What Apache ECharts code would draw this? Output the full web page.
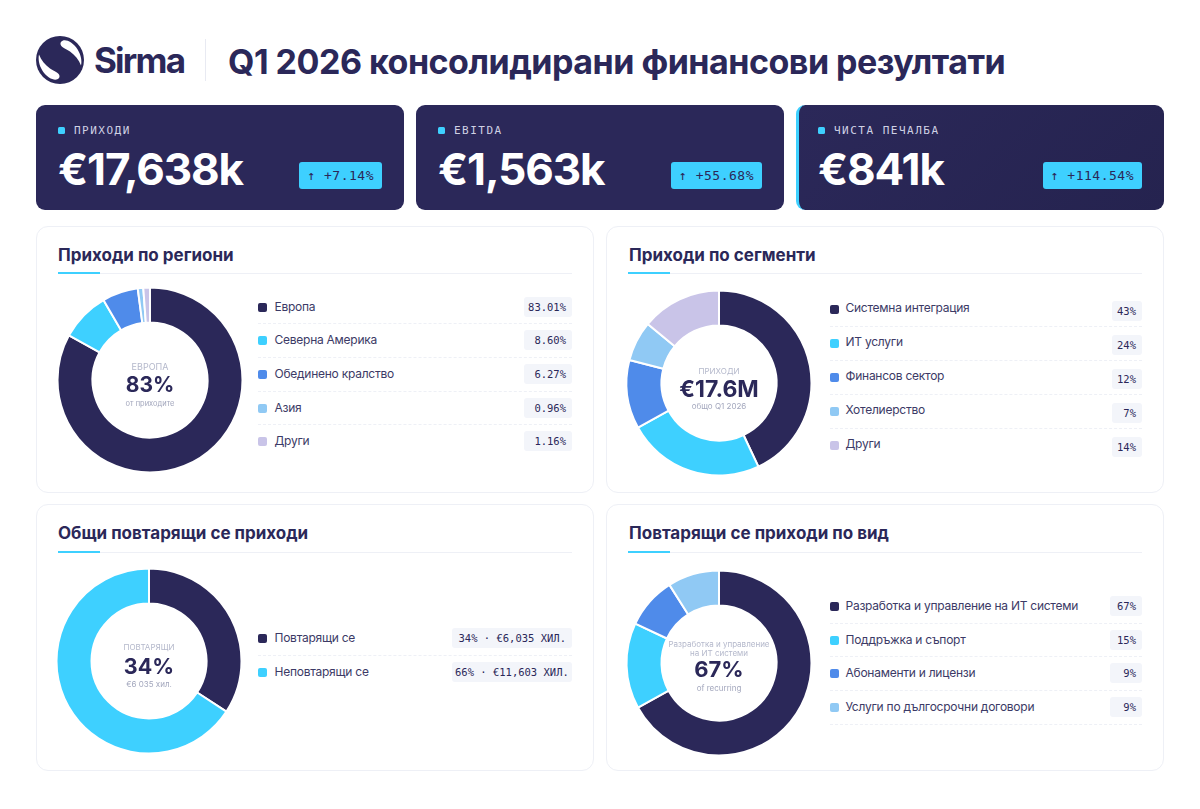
<!DOCTYPE html>
<html lang="bg">
<head>
<meta charset="utf-8">
<title>Sirma Q1 2026</title>
<script src="https://cdn.jsdelivr.net/npm/echarts@6/dist/echarts.min.js"></script>
<style>
  * { box-sizing: border-box; margin: 0; padding: 0; }
  html, body { width: 1200px; height: 809px; background: #fff; overflow: hidden; font-family: Inter, "Noto Sans", sans-serif; color: #2b2859; }
  .abs { position: absolute; }
  .kpi { position: absolute; top: 105px; width: 368px; height: 105px; border-radius: 9px; background: #2b2859; color: #fff; }
  .kpi.last { background: linear-gradient(135deg, #2b2859, #25234f); border-left: 3px solid #3ed0ff; }
  .kpi i { position: absolute; left: 22px; top: 22px; width: 7px; height: 7px; border-radius: 1.5px; background: #3ed0ff; }
  .kpi.last i { left: 19px; }
  .kpi span { position: absolute; left: 38px; top: 18px; font: 11px/15px "DejaVu Sans Mono", monospace; letter-spacing: 1.5px; color: #cfd1e4; }
  .kpi.last span { left: 35px; }
  .kpi b { position: absolute; left: 22px; top: 37px; font: 700 44px/54px Inter, sans-serif; letter-spacing: -1.1px; }
  .kpi.last b { left: 19px; }
  .kpi em { position: absolute; right: 22px; top: 57px; height: 27px; padding: 0 8px; border-radius: 3px; background: #3ed0ff; color: #2b2859; font: normal 13px/27px "DejaVu Sans Mono", monospace; letter-spacing: .5px; }
  .card { position: absolute; background: #fff; border: 1px solid #eef0f6; border-radius: 12px; }
  .card h2 { position: absolute; left: 21px; top: 18px; font: 700 17px/20px Inter, sans-serif; }
  .card .rule { position: absolute; left: 21px; right: 21px; top: 46px; height: 1px; background: #eef0f6; }
  .card .rule:before { content: ""; position: absolute; left: 0; top: -1px; width: 42px; height: 2px; background: #3ed0ff; }
  .donut { position: absolute; width: 200px; height: 200px; }
  .legend { position: absolute; }
  .row { position: relative; border-bottom: 1px dashed #eef0f6; font-size: 12px; color: #3c3a66; }
  .row:last-child.noend { border-bottom: 0; }
  .row i { position: absolute; left: 0; top: 12px; width: 9px; height: 9px; border-radius: 2px; }
  .row span { position: absolute; line-height: 16px; letter-spacing: -.25px; white-space: nowrap; }
  .row em { position: absolute; right: 0; height: 20px; padding: 0 3px; border-radius: 3px; background: #f3f5fa; color: #2b2859; font: normal 10.5px/20px "DejaVu Sans Mono", monospace; text-align: right; white-space: nowrap; }
</style>
</head>
<body>
<svg class="abs" style="left:36px;top:36px" width="48" height="48" viewBox="0 0 48 48">
  <circle cx="24" cy="24" r="24" fill="#2b2859"/>
  <path id="swoosh" d="M25 6 C27 3.5 31 4 35 6.5 C40 10 44 16 45 22 C45.5 25 45.5 27 45 29.5 C43 24 39 19 34 15.5 C31 13.5 26 11.5 25 9.5 C24.3 8.3 24.3 7 25 6Z" fill="#fff"/>
  <use href="#swoosh" transform="rotate(180 24 24)"/>
</svg>
<div class="abs" style="left:94px;top:37px;font:700 35px/46px Inter,sans-serif;letter-spacing:-1.8px">Sirma</div>
<div class="abs" style="left:205px;top:39px;width:1px;height:42px;background:#e8eaf2"></div>
<div class="abs" id="pageTitle" style="left:228px;top:39px;font:700 34px/46px Inter,sans-serif;letter-spacing:-.5px;white-space:nowrap"></div>
<div id="root"></div>
<script>
const pageTitle = 'Q1 2026 консолидирани финансови резултати'

const kpiLabels = ['ПРИХОДИ', 'EBITDA', 'ЧИСТА ПЕЧАЛБА']
const kpiValues = ['€17,638k', '€1,563k', '€841k']
const kpiChanges = ['↑ +7.14%', '↑ +55.68%', '↑ +114.54%']

const palette = ['#2b2859', '#3ed0ff', '#4f8bea', '#90c9f4', '#c9c4e8']

const regionNames = ['Европа', 'Северна Америка', 'Обединено кралство', 'Азия', 'Други']
const regionValues = [83.01, 8.60, 6.27, 0.96, 1.16]
const regionLabels = ['83.01%', '8.60%', '6.27%', '0.96%', '1.16%']

const segmentNames = ['Системна интеграция', 'ИТ услуги', 'Финансов сектор', 'Хотелиерство', 'Други']
const segmentValues = [43, 24, 12, 7, 14]
const segmentLabels = ['43%', '24%', '12%', '7%', '14%']

const recurringNames = ['Повтарящи се', 'Неповтарящи се']
const recurringValues = [6035, 11603]
const recurringLabels = ['34% · €6,035 ХИЛ.', '66% · €11,603 ХИЛ.']

const typeNames = ['Разработка и управление на ИТ системи', 'Поддръжка и съпорт', 'Абонаменти и лицензи', 'Услуги по дългосрочни договори']
const typeValues = [67, 15, 9, 9]
const typeLabels = ['67%', '15%', '9%', '9%']

document.getElementById('pageTitle').textContent = pageTitle
const root = document.getElementById('root')

// kpi блокове
kpiLabels.forEach((label, i) => {
  const el = document.createElement('div')
  el.className = i === 2 ? 'kpi last' : 'kpi'
  el.style.left = (36 + i * 380) + 'px'
  el.innerHTML = `<i></i><span>${label}</span><b>${kpiValues[i]}</b><em>${kpiChanges[i]}</em>`
  root.appendChild(el)
})

const panels = [
  {
    title: 'Приходи по региони', box: [36, 226, 558, 267], center: [150, 380], titleLeft: 21, rule: 46,
    names: regionNames, values: regionValues, labels: regionLabels,
    legend: [258, 290.5, 314], rowH: 33.7, pill: [48, 6], textPos: [16.5, 8], noEnd: true,
    middle: [
      { text: 'ЕВРОПА', dy: -13, size: 9, color: '#b4b8cb' },
      { text: '83%', dy: 6, size: 21, weight: 700, color: '#2b2859' },
      { text: 'от приходите', dy: 23, size: 7.5, color: '#a3a7bd' }
    ]
  },
  {
    title: 'Приходи по сегменти', box: [606, 226, 558, 267], center: [719, 382.5], titleLeft: 22, rule: 46,
    names: segmentNames, values: segmentValues, labels: segmentLabels,
    legend: [830, 292.5, 312], rowH: 34, pill: [30, 8], textPos: [15.5, 7], noEnd: true,
    middle: [
      { text: 'ПРИХОДИ', dy: -11.5, size: 8, color: '#b4b8cb' },
      { text: '€17.6M', dy: 7.5, size: 23, weight: 700, color: '#2b2859' },
      { text: 'общо Q1 2026', dy: 23.5, size: 8, color: '#a3a7bd' }
    ]
  },
  {
    title: 'Общи повтарящи се приходи', box: [36, 504, 558, 267], center: [149, 661], titleLeft: 21, rule: 47,
    names: recurringNames, values: recurringValues, labels: recurringLabels,
    legend: [258, 622, 314], rowH: 33.7, pill: [120, 6], textPos: [16.5, 8], noEnd: true,
    middle: [
      { text: 'ПОВТАРЯЩИ', dy: -13, size: 8, color: '#b4b8cb' },
      { text: '34%', dy: 6, size: 21.5, weight: 700, color: '#2b2859' },
      { text: '€6 035 хил.', dy: 24, size: 8, color: '#a3a7bd' }
    ]
  },
  {
    title: 'Повтарящи се приходи по вид', box: [606, 504, 558, 267], center: [719, 662.5], titleLeft: 22, rule: 47,
    names: typeNames, values: typeValues, labels: typeLabels,
    legend: [830, 590, 312], rowH: 33.7, pill: [32, 6], textPos: [15.5, 8], noEnd: false,
    middle: [
      { text: 'Разработка и управление', dy: -18.5, size: 8, color: '#b4b8cb' },
      { text: 'на ИТ системи', dy: -9, size: 8, color: '#b4b8cb' },
      { text: '67%', dy: 7.5, size: 22, weight: 700, color: '#2b2859' },
      { text: 'of recurring', dy: 25.5, size: 8, color: '#a3a7bd' }
    ]
  }
]

panels.forEach(p => {
  const card = document.createElement('div')
  card.className = 'card'
  card.style.cssText = `left:${p.box[0]}px;top:${p.box[1]}px;width:${p.box[2]}px;height:${p.box[3]}px`
  card.innerHTML = `<h2 style="left:${p.titleLeft}px">${p.title}</h2><div class="rule" style="top:${p.rule}px"></div>`
  root.appendChild(card)

  const legend = document.createElement('div')
  legend.className = 'legend'
  legend.style.cssText = `left:${p.legend[0]}px;top:${p.legend[1]}px;width:${p.legend[2]}px`
  p.names.forEach((name, i) => {
    const row = document.createElement('div')
    row.className = 'row' + (p.noEnd ? ' noend' : '')
    row.style.height = p.rowH + 'px'
    row.innerHTML = `<i style="background:${palette[i]}"></i><span style="left:${p.textPos[0]}px;top:${p.textPos[1]}px">${name}</span>` +
      `<em style="width:${p.pill[0]}px;top:${p.pill[1]}px;padding-right:6px">${p.labels[i]}</em>`
    legend.appendChild(row)
  })
  root.appendChild(legend)

  const box = document.createElement('div')
  box.className = 'donut'
  box.style.left = (p.center[0] - 100) + 'px'
  box.style.top = (p.center[1] - 100) + 'px'
  root.appendChild(box)

  const chart = echarts.init(box)
  chart.setOption({
    animation: false,
    color: palette,
    series: [{
      type: 'pie',
      center: ['50%', '50%'],
      radius: [57.5, 92.5],
      startAngle: 90,
      clockwise: true,
      silent: true,
      label: { show: false },
      itemStyle: { borderColor: '#fff', borderWidth: 2 },
      data: p.names.map((name, i) => ({ name, value: p.values[i] }))
    }],
    graphic: p.middle.map(t => ({
      type: 'text',
      left: 'center',
      top: 100 + t.dy - t.size / 2,
      style: {
        text: t.text,
        fill: t.color,
        font: `${t.weight || 400} ${t.size}px Inter, sans-serif`
      }
    }))
  })
})
</script>
</body>
</html>
